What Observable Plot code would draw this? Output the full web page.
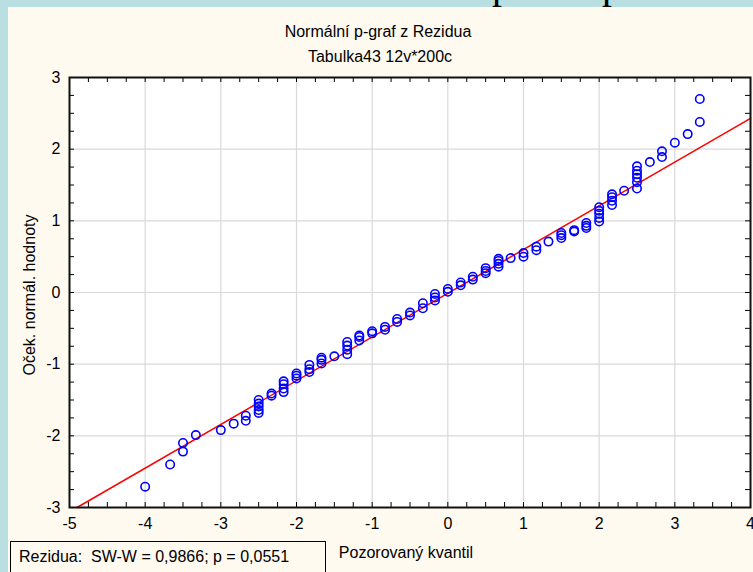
<!DOCTYPE html>
<html><head><meta charset="utf-8">
<script src="https://cdn.jsdelivr.net/npm/d3@7"></script>
<script src="https://cdn.jsdelivr.net/npm/@observablehq/plot@0.6"></script>
<style>
html,body{margin:0;padding:0;}
body{width:753px;height:572px;overflow:hidden;background:#b9dfe3;position:relative;font-family:"Liberation Sans",Arial,sans-serif;}
.glyph{position:absolute;top:-35px;font-family:"Liberation Serif","Times New Roman",serif;font-size:40px;line-height:40px;color:#000;}
#panel{position:absolute;left:8px;top:7px;right:0;bottom:0;background:#fffaf0;}
.t{position:absolute;font-size:16px;line-height:16px;color:#000;white-space:nowrap;}
#chart{position:absolute;left:0;top:62px;}
#box{position:absolute;left:10px;top:541px;width:314px;height:40px;border:1px solid #000;background:#fffaf0;}
</style></head>
<body>
<span class="glyph" style="left:492px">p</span>
<span class="glyph" style="left:602px">p</span>
<div id="panel"></div>
<div class="t" id="title" style="left:378px;top:24px;transform:translateX(-50%)">Normální p-graf z Rezidua</div>
<div class="t" id="subtitle" style="left:380px;top:49px;transform:translateX(-50%)">Tabulka43 12v*200c</div>
<div id="chart"></div>
<div class="t" style="left:30px;top:295px;transform:translate(-50%,-50%) rotate(-90deg)">Oček. normál. hodnoty</div>
<div class="t" style="left:406px;top:545px;transform:translateX(-50%)">Pozorovaný kvantil</div>
<div id="box"><div class="t" style="left:8px;top:7px">Rezidua:&nbsp; SW-W = 0,9866; p = 0,0551</div></div>
<script>
// Tick labels
const xMajor = [-5, -4, -3, -2, -1, 0, 1, 2, 3, 4];
const yMajor = [-3, -2, -1, 0, 1, 2, 3];
// Fitted reference line endpoints
const fitX = [-4.9, 4.0];
const fitY = [-3.0, 2.43];
// Observed quantile (residual) and expected normal values
const obsX = [
  -4.00, -3.67, -3.50, -3.50, -3.33, -3.00, -2.83, -2.67, -2.67,
  -2.50, -2.50, -2.50, -2.50, -2.50, -2.33, -2.33,
  -2.17, -2.17, -2.17, -2.17, -2.00, -2.00, -2.00,
  -1.83, -1.83, -1.83, -1.67, -1.67, -1.67, -1.50,
  -1.33, -1.33, -1.33, -1.33, -1.17, -1.17, -1.17,
  -1.00, -1.00, -0.83, -0.83, -0.67, -0.67, -0.50, -0.50,
  -0.33, -0.33, -0.17, -0.17, -0.17, 0.00, 0.00,
  0.17, 0.17, 0.33, 0.33, 0.50, 0.50, 0.50,
  0.67, 0.67, 0.67, 0.67, 0.83, 1.00, 1.00, 1.17, 1.17, 1.33,
  1.50, 1.50, 1.50, 1.67, 1.67, 1.83, 1.83, 1.83,
  2.00, 2.00, 2.00, 2.00, 2.00, 2.17, 2.17, 2.17, 2.17, 2.33,
  2.50, 2.50, 2.50, 2.50, 2.50, 2.50, 2.67, 2.83, 2.83,
  3.00, 3.17, 3.33, 3.33
];
const expY = [
  -2.71, -2.40, -2.22, -2.10, -1.99, -1.92, -1.83, -1.79, -1.72,
  -1.68, -1.64, -1.59, -1.55, -1.50, -1.44, -1.41,
  -1.39, -1.34, -1.28, -1.24, -1.20, -1.16, -1.13,
  -1.11, -1.07, -1.01, -0.99, -0.94, -0.91, -0.89,
  -0.86, -0.80, -0.74, -0.69, -0.67, -0.62, -0.60,
  -0.57, -0.54, -0.52, -0.48, -0.41, -0.37, -0.32, -0.28,
  -0.22, -0.15, -0.11, -0.07, -0.02, 0.01, 0.05,
  0.10, 0.14, 0.18, 0.22, 0.27, 0.30, 0.34,
  0.36, 0.40, 0.44, 0.47, 0.48, 0.50, 0.55, 0.59, 0.64, 0.71,
  0.76, 0.80, 0.83, 0.85, 0.87, 0.90, 0.93, 0.97,
  0.99, 1.04, 1.10, 1.14, 1.19, 1.22, 1.28, 1.33, 1.37, 1.42,
  1.45, 1.54, 1.60, 1.65, 1.70, 1.76, 1.82, 1.89, 1.97,
  2.09, 2.21, 2.38, 2.70
];

const pts = obsX.map((x, i) => ({x, y: expY[i]}));
const fit = fitX.map((x, i) => ({x, y: fitY[i]}));
const xMinor = d3.range(-5, 4.0001, 0.25);
const yMinor = d3.range(-3, 3.0001, 0.25);

const W = 753, H = 510, mL = 69, mR = 3, mT = 15, mB = 65;
const fw = W - mL - mR, fh = H - mT - mB, tk = 5;
const fmt = d => String(d);

const chart = Plot.plot({
  width: W, height: H,
  marginLeft: mL, marginRight: mR, marginTop: mT, marginBottom: mB,
  style: {background: "transparent", fontFamily: '"Liberation Sans", Arial, sans-serif', fontSize: "16px", color: "#000", overflow: "visible"},
  x: {domain: [-5, 4]},
  y: {domain: [-3, 3]},
  marks: [
    Plot.frame({fill: "#fff"}),
    Plot.gridX(xMajor.slice(1, -1), {stroke: "#d9d9d9", strokeOpacity: 1, strokeWidth: 1.2}),
    Plot.gridY(yMajor.slice(1, -1), {stroke: "#d9d9d9", strokeOpacity: 1, strokeWidth: 1.2}),
    Plot.tickX(xMinor, {x: d => d, insetTop: fh - tk, stroke: "#000"}),
    Plot.tickX(xMinor, {x: d => d, insetBottom: fh - tk, stroke: "#000"}),
    Plot.tickY(yMinor, {y: d => d, insetRight: fw - tk, stroke: "#000"}),
    Plot.tickY(yMinor, {y: d => d, insetLeft: fw - tk, stroke: "#000"}),
    Plot.line(fit, {x: "x", y: "y", stroke: "#ff0000", strokeWidth: 1.5}),
    Plot.dot(pts, {x: "x", y: "y", r: 4.2, stroke: "#0000ff", strokeWidth: 1.6, fill: "none"}),
    Plot.frame({stroke: "#111", strokeWidth: 2}),
    Plot.axisX(xMajor, {tickSize: 0, tickPadding: 10, label: null, fontSize: 16, tickFormat: fmt}),
    Plot.axisY(yMajor, {tickSize: 0, tickPadding: 9, label: null, fontSize: 16, tickFormat: fmt})
  ]
});
document.getElementById("chart").appendChild(chart);
</script>
</body></html>
